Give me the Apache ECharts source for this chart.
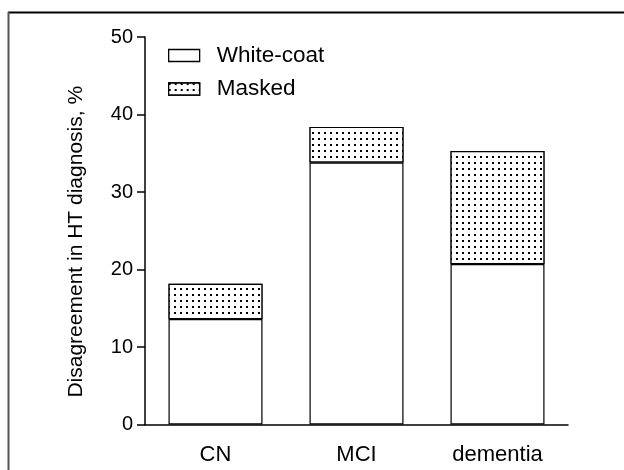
<!DOCTYPE html>
<html>
<head>
<meta charset="utf-8">
<script src="https://cdn.jsdelivr.net/npm/echarts@6/dist/echarts.min.js"></script>
<style>html,body{margin:0;padding:0;background:#fff}#c{width:624px;height:470px}</style>
</head>
<body>
<div id="c"></div>
<script>
var categories = ['CN', 'MCI', 'dementia'];
var whiteCoat = [13.6, 33.8, 20.7];
var masked = [4.55, 4.6, 14.6];
var seriesNames = ['White-coat', 'Masked'];

var chart = echarts.init(document.getElementById('c'), null, {renderer: 'canvas'});
var FONT = 'Liberation Sans, Arial, sans-serif';
var dots = {
  symbol: 'rect',
  symbolSize: 1,
  color: '#000',
  backgroundColor: '#fff',
  dashArrayX: [[2, 3.6]],
  dashArrayY: [2, 3.8],
  rotation: 0
};
chart.setOption({
  animation: false,
  backgroundColor: '#fff',
  graphic: [
    {type: 'line', shape: {x1: 8, y1: 12.5, x2: 624, y2: 12.5}, style: {stroke: '#000', lineWidth: 2}},
    {type: 'line', shape: {x1: 8.5, y1: 12, x2: 8.5, y2: 470}, style: {stroke: '#555', lineWidth: 2}}
  ],
  grid: {left: 145, right: 56, top: 37, bottom: 45.5, containLabel: false},
  legend: {
    orient: 'vertical',
    left: 168,
    top: 44,
    padding: 0,
    icon: 'rect',
    itemWidth: 31,
    itemHeight: 12,
    itemGap: 10.5,
    itemStyle: {borderColor: '#000', borderWidth: 1.3},
    textStyle: {fontFamily: FONT, fontSize: 22.5, color: '#000', padding: [0, 0, 0, 12]},
    data: seriesNames
  },
  xAxis: {
    type: 'category',
    data: categories,
    axisLine: {lineStyle: {color: '#000', width: 1.5}},
    axisTick: {show: false},
    axisLabel: {fontFamily: FONT, fontSize: 22, color: '#000', margin: 19}
  },
  yAxis: {
    type: 'value',
    min: 0, max: 50, interval: 10,
    name: 'Disagreement in HT diagnosis, %',
    nameLocation: 'middle',
    nameGap: 58,
    nameTextStyle: {fontFamily: FONT, fontSize: 21, color: '#000', padding: [0, 22, 0, 0]},
    splitLine: {show: false},
    axisLine: {show: true, lineStyle: {color: '#000', width: 1.5}},
    axisTick: {show: true, length: 8, lineStyle: {color: '#000', width: 1.5}},
    axisLabel: {fontFamily: FONT, fontSize: 20, color: '#000', margin: 12}
  },
  series: [
    {
      name: seriesNames[0], type: 'bar', stack: 't', barWidth: 94,
      data: whiteCoat,
      itemStyle: {color: '#fff', borderColor: '#000', borderWidth: 1.2}
    },
    {
      name: seriesNames[1], type: 'bar', stack: 't', barWidth: 94,
      data: masked,
      itemStyle: {color: '#fff', borderColor: '#000', borderWidth: 1.2, decal: dots}
    }
  ]
});
</script>
</body>
</html>
